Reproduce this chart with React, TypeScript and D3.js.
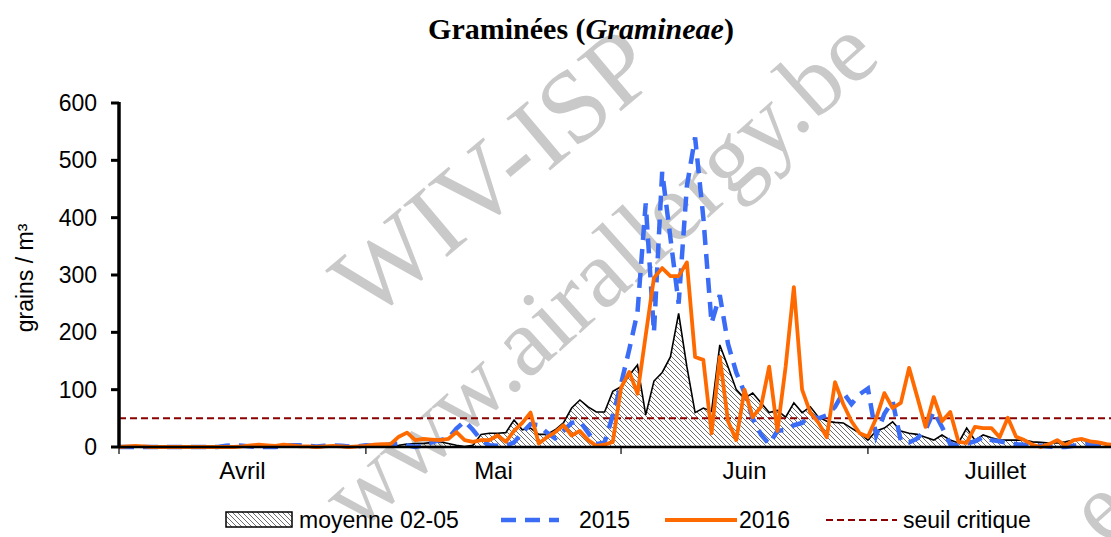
import React from 'react';
import * as d3 from 'd3';

// daily pollen counts, 1 April -> 31 July (grains / m³)
const moyenne = [
  // avril
  0, 0, 0, 0, 0, 0, 0, 0, 0, 0, 0, 0, 0, 0, 1, 1, 1, 1, 1, 2, 1, 1, 2, 2, 1, 1, 2, 2, 1, 2,
  // mai
  1, 1, 2, 2, 3, 5, 6, 6, 8, 9, 6, 3, 1, 3, 22, 24, 24, 25, 47, 30, 33, 22, 22, 30, 42, 68, 82, 70, 61, 61, 97,
  // juin
  105, 125, 143, 56, 115, 130, 157, 233, 140, 60, 68, 62, 178, 140, 100, 85, 94, 77, 60, 64, 52, 77, 60, 70, 52, 45, 43, 42, 33, 24,
  // juillet
  12, 28, 33, 44, 28, 24, 22, 17, 12, 21, 12, 7, 33, 12, 21, 16, 12, 12, 12, 12, 9, 8, 7, 7, 9, 12, 12, 10, 6, 4, 3,
];

const serie2015 = [
  0, 0, 0, 0, 0, 0, 0, 0, 0, 0, 0, 0, 0, 2, 3, 2, 1, 0, 0, 0, 2, 3, 3, 2, 1, 2, 3, 2, 1, 1,
  3, 2, 2, 5, 6, 3, 0, 3, 8, 12, 15, 32, 45, 30, 12, 3, 2, 2, 8, 25, 40, 38, 25, 15, 28, 42, 45, 25, 5, 8, 55,
  110, 170, 235, 425, 200, 480, 365, 250, 455, 540, 400, 216, 265, 180, 130, 95, 50, 22, 5, 28, 30, 38, 42, 55, 50, 55, 70, 95, 75, 92,
  102, 20, 58, 80, 10, 8, 15, 30, 62, 35, 5, 3, 6, 10, 17, 12, 10, 7, 5, 4, 3, 2, 1, 0, 0, 2, 4, 6, 5, 3, 2,
];

const serie2016 = [
  0, 1, 2, 1, 0, 0, 0, 0, 0, 0, 0, 0, 0, 0, 0, 1, 3, 4, 3, 2, 4, 3, 1, 1, 0, 1, 2, 1, 0, 1,
  2, 4, 5, 5, 18, 25, 12, 14, 13, 12, 14, 26, 12, 9, 12, 12, 20, 9, 28, 42, 60, 6, 17, 26, 38, 20, 28, 12, 2, 4, 9,
  103, 131, 93, 195, 295, 312, 298, 298, 322, 157, 152, 24, 157, 45, 12, 100, 52, 70, 140, 28, 140, 279, 100, 60, 42, 17, 113, 75, 45, 24,
  18, 50, 94, 68, 77, 138, 87, 35, 87, 45, 61, 9, 7, 35, 33, 33, 17, 51, 18, 12, 4, 0, 5, 12, 3, 12, 14, 10, 8, 5, 3,
];

const seuil = 50;
const months = ['Avril', 'Mai', 'Juin', 'Juillet'];
const yTicks = [0, 100, 200, 300, 400, 500, 600];
const legendLabels = ['moyenne 02-05', '2015', '2016', 'seuil critique'];

const W = 1111;
const H = 537;
const start = Date.UTC(2016, 3, 1);
const end = Date.UTC(2016, 6, 31);
const sans = '"Liberation Sans", Arial, sans-serif';
const serif = '"Liberation Serif", "Times New Roman", serif';

export default function App() {
  const days = d3.utcDay.range(new Date(start), new Date(Date.UTC(2016, 7, 1)));
  const x = d3.scaleUtc().domain([new Date(start), new Date(end)]).range([119, 119 + 121 * 8.23]);
  const y = d3.scaleLinear().domain([0, 600]).range([447, 103]);

  const line = d3.line<number>().x((_, i) => x(days[i])).y(d => y(d));
  const area = d3.area<number>().x((_, i) => x(days[i])).y0(y(0)).y1(d => y(d));

  const monthStarts = d3.utcMonth.range(new Date(start), new Date(Date.UTC(2016, 8, 1)));

  return (
    <svg width={W} height={H} style={{ position: 'absolute', left: 0, top: 0, background: '#fff' }}>
      <defs>
        <pattern id="hatch" patternUnits="userSpaceOnUse" width={5} height={5}>
          <path d="M0,0 L5,5 M-1,4 L1,6 M4,-1 L6,1" stroke="#6e6e6e" strokeWidth={1} />
        </pattern>
      </defs>
      <rect width={W} height={H} fill="#fff" />

      {/* watermark */}
      <g fill="#c9c9c9" fontFamily={serif} textAnchor="middle">
        <text x={495} y={207} fontSize={104} transform="rotate(-40 495 175)">WIV-ISP</text>
        <text x={600} y={305} fontSize={97} transform="rotate(-42 600 275)">www.airallergy.be</text>
        <text x={1100} y={540} fontSize={96} transform="rotate(-42 1100 510)">e</text>
      </g>

      {/* title */}
      <text x={581} y={39} textAnchor="middle" fontFamily={serif} fontWeight="bold" fontSize={30}>
        Graminées (<tspan fontStyle="italic">Gramineae</tspan>)
      </text>

      {/* moyenne */}
      <path d={area(moyenne) || ''} fill="url(#hatch)" />
      <path d={line(moyenne) || ''} fill="none" stroke="#000" strokeWidth={1.6} />

      {/* seuil */}
      <line x1={x(new Date(start))} x2={W} y1={y(seuil)} y2={y(seuil)} stroke="#8b0000" strokeWidth={2} strokeDasharray="7,4" />

      <path d={line(serie2015) || ''} fill="none" stroke="#3a6cf6" strokeWidth={4.5} strokeDasharray="15,9" />
      <path d={line(serie2016) || ''} fill="none" stroke="#ff6a00" strokeWidth={3.8} strokeLinejoin="round" />

      {/* axes */}
      <line x1={119} x2={W} y1={y(0)} y2={y(0)} stroke="#000" strokeWidth={2.5} />
      {monthStarts.map((m, i) => (
        <line key={i} x1={x(m)} x2={x(m)} y1={y(0)} y2={y(0) + 7} stroke="#000" strokeWidth={1.2} />
      ))}
      {months.map((m, i) => (
        <text key={m} x={(x(monthStarts[i]) + x(monthStarts[i + 1])) / 2} y={479} textAnchor="middle"
          fontFamily={sans} fontSize={24}>{m}</text>
      ))}
      <line x1={119} x2={119} y1={y(600) - 1} y2={y(0) + 1} stroke="#000" strokeWidth={3.5} />
      {yTicks.map(t => (
        <g key={t}>
          <line x1={111} x2={119} y1={y(t)} y2={y(t)} stroke="#000" strokeWidth={3} />
          <text x={97} y={y(t) + 8} textAnchor="end" fontFamily={sans} fontSize={23}>{t}</text>
        </g>
      ))}
      <text transform="translate(33,278) rotate(-90)" textAnchor="middle" fontFamily={sans} fontSize={23}>
        grains / m³
      </text>

      {/* legend */}
      <g fontFamily={sans} fontSize={23}>
        <rect x={226} y={512} width={66} height={15} fill="url(#hatch)" stroke="#000" strokeWidth={1.5} />
        <text x={299} y={528}>{legendLabels[0]}</text>
        <line x1={501} x2={559} y1={520} y2={520} stroke="#3a6cf6" strokeWidth={4.5} strokeDasharray="15,9" />
        <text x={579} y={528}>{legendLabels[1]}</text>
        <line x1={665} x2={737} y1={520} y2={520} stroke="#ff6a00" strokeWidth={3.8} />
        <text x={739} y={528}>{legendLabels[2]}</text>
        <line x1={826} x2={897} y1={520} y2={520} stroke="#8b0000" strokeWidth={2} strokeDasharray="7,4" />
        <text x={903} y={528}>{legendLabels[3]}</text>
      </g>
    </svg>
  );
}
